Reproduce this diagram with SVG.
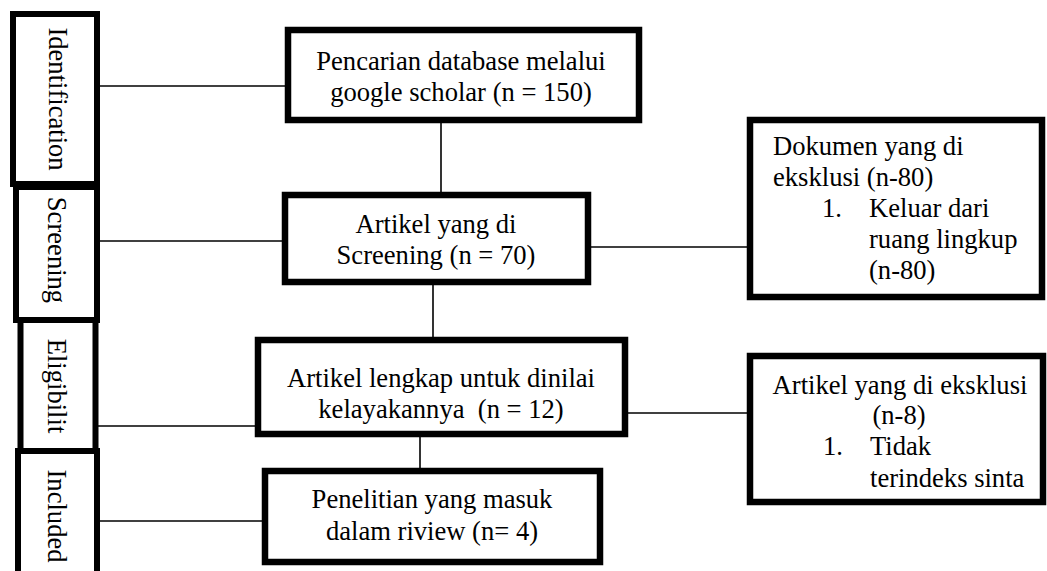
<svg xmlns="http://www.w3.org/2000/svg" width="1047" height="571" viewBox="0 0 1047 571">
<style>
.box{fill:#fff;stroke:#000;stroke-width:6.5}
.stage{fill:#fff;stroke:#000;stroke-width:6}
.t{font-family:"Liberation Serif","Times New Roman",serif;font-size:26.6px;fill:#000}
.c{text-anchor:middle}
.ln{stroke:#000;stroke-width:1.6;fill:none}
</style>
<rect width="1047" height="571" fill="#fff"/>
<g id="connectors">
<line class="ln" x1="100" y1="86" x2="285" y2="86"/>
<line class="ln" x1="441" y1="123" x2="441" y2="192"/>
<line class="ln" x1="100" y1="241" x2="282" y2="241"/>
<line class="ln" x1="591" y1="247" x2="747" y2="247"/>
<line class="ln" x1="433" y1="285" x2="433" y2="337"/>
<line class="ln" x1="98" y1="426" x2="255" y2="426"/>
<line class="ln" x1="628" y1="413" x2="747" y2="413"/>
<line class="ln" x1="420" y1="437" x2="420" y2="468"/>
<line class="ln" x1="100" y1="521" x2="262" y2="521"/>
</g>
<g id="stage-identification">
<rect class="stage" x="13" y="14" width="84" height="170"/>
<text class="t c" transform="translate(49,99) rotate(90)">Identification</text>
</g>
<g id="stage-screening">
<rect class="stage" x="16" y="187" width="81" height="133"/>
<text class="t c" transform="translate(48,250) rotate(90)">Screening</text>
</g>
<g id="stage-eligibility">
<rect class="stage" x="20.5" y="320" width="75" height="133"/>
<text class="t c" transform="translate(48,386) rotate(90)">Eligibilit</text>
</g>
<g id="stage-included">
<rect class="stage" x="18" y="451" width="79" height="130"/>
<text class="t c" transform="translate(48,516) rotate(90)">Included</text>
</g>
<g id="box-search">
<rect class="box" x="288" y="30" width="351" height="90"/>
<text class="t c" x="461" y="70">Pencarian database melalui</text>
<text class="t c" x="461" y="101">google scholar (n = 150)</text>
</g>
<g id="box-screening">
<rect class="box" x="285" y="195" width="303" height="87"/>
<text class="t c" x="436" y="233">Artikel yang di</text>
<text class="t c" x="436" y="264">Screening (n = 70)</text>
</g>
<g id="box-eligibility">
<rect class="box" x="258" y="340" width="367" height="94"/>
<text class="t c" x="441" y="387">Artikel lengkap untuk dinilai</text>
<text class="t c" x="441" y="418" xml:space="preserve">kelayakannya  (n = 12)</text>
</g>
<g id="box-included">
<rect class="box" x="265" y="471" width="335" height="91"/>
<text class="t c" x="432" y="508">Penelitian yang masuk</text>
<text class="t c" x="432" y="540">dalam riview (n= 4)</text>
</g>
<g id="box-excluded-1">
<rect class="box" x="750" y="120" width="292" height="177"/>
<text class="t" x="773" y="155">Dokumen yang di</text>
<text class="t" x="773" y="186">eksklusi (n-80)</text>
<text class="t" x="822" y="217">1.</text>
<text class="t" x="869" y="217">Keluar dari</text>
<text class="t" x="869" y="248">ruang lingkup</text>
<text class="t" x="869" y="279">(n-80)</text>
</g>
<g id="box-excluded-2">
<rect class="box" x="750" y="356" width="293" height="146"/>
<text class="t c" x="900" y="394">Artikel yang di eksklusi</text>
<text class="t c" x="899" y="424">(n-8)</text>
<text class="t" x="823" y="455">1.</text>
<text class="t" x="870" y="455">Tidak</text>
<text class="t" x="870" y="487">terindeks sinta</text>
</g>
</svg>
